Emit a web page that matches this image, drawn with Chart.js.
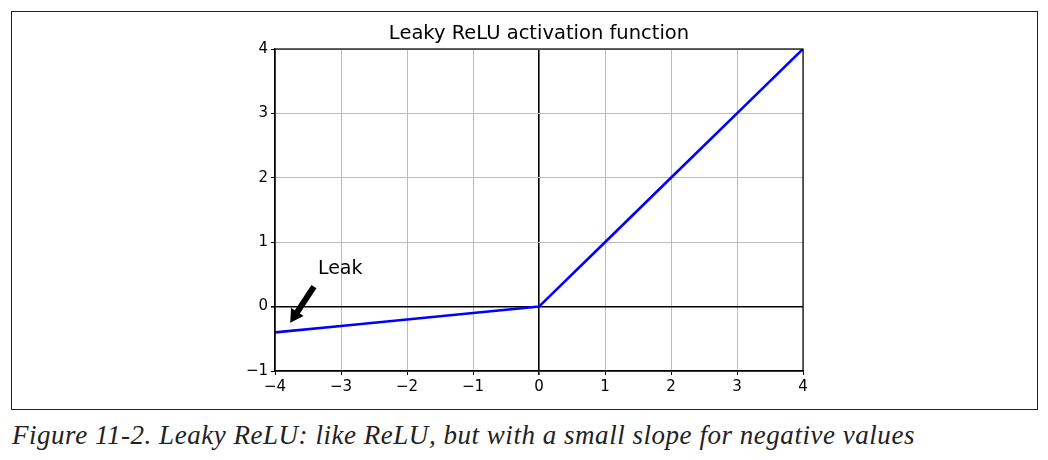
<!DOCTYPE html>
<html>
<head>
<meta charset="utf-8">
<script src="https://cdn.jsdelivr.net/npm/chart.js@4.4.1/dist/chart.umd.min.js"></script>
<style>
  html, body { margin: 0; padding: 0; background: #fff; }
  body { width: 1048px; height: 460px; position: relative; overflow: hidden; }
  #frame { position: absolute; left: 11px; top: 11px; width: 1025px; height: 397px; border: 1.5px solid #222; }
  #wrap { position: absolute; left: 0; top: 0; width: 1048px; height: 412px; }
  #caption { position: absolute; left: 12px; top: 420px; font-family: "Liberation Serif", serif; font-style: italic; font-size: 27px; letter-spacing: 0.53px; color: #222; white-space: nowrap; }
</style>
</head>
<body>
<div id="frame"></div>
<div id="wrap"><canvas id="chart"></canvas></div>
<div id="caption">Figure 11-2. Leaky ReLU: like ReLU, but with a small slope for negative values</div>
<script>
// leaky relu, alpha 0.1
var xValues = [-4, -3, -2, -1, 0, 1, 2, 3, 4];
var yValues = [-0.4, -0.3, -0.2, -0.1, 0, 1, 2, 3, 4];
var xTicks = [-4, -3, -2, -1, 0, 1, 2, 3, 4];
var yTicks = [-1, 0, 1, 2, 3, 4];

var points = xValues.map(function (x, i) { return { x: x, y: yValues[i] }; });

function fmt(v) {
    return v < 0 ? '\u2212' + Math.abs(v) : String(v);
}

function gridColor(ctx) {
    return ctx.tick && ctx.tick.value === 0 ? '#000' : '#bcbcbc';
}
function gridWidth(ctx) {
    return ctx.tick && ctx.tick.value === 0 ? 1.6 : 1;
}

// title, spines on top/right, "Leak" arrow annotation
var extras = {
    id: 'extras',
    afterDatasetsDraw: function (chart) {
        var c = chart.ctx, a = chart.chartArea;
        var xs = chart.scales.x, ys = chart.scales.y;
        c.save();
        c.strokeStyle = '#000';
        c.lineWidth = 1.2;
        c.strokeRect(a.left, a.top, a.right - a.left, a.bottom - a.top);

        c.fillStyle = '#000';
        c.font = '19.5px "DejaVu Sans"';
        c.textAlign = 'center';
        c.textBaseline = 'middle';
        c.fillText('Leaky ReLU activation function', (a.left + a.right) / 2, 34);

        // annotation text
        c.font = '19px "DejaVu Sans"';
        c.textAlign = 'left';
        c.fillText('Leak', xs.getPixelForValue(-3.35), ys.getPixelForValue(0.59));

        // arrow
        var x0 = xs.getPixelForValue(-3.41), y0 = ys.getPixelForValue(0.31);
        var x1 = xs.getPixelForValue(-3.77), y1 = ys.getPixelForValue(-0.25);
        var dx = x1 - x0, dy = y1 - y0, len = Math.sqrt(dx * dx + dy * dy);
        var ux = dx / len, uy = dy / len, nx = -uy, ny = ux;
        var sw = 3, hw = 7.5, hl = 13;
        var bx = x1 - ux * hl, by = y1 - uy * hl;
        c.beginPath();
        c.moveTo(x0 + nx * sw, y0 + ny * sw);
        c.lineTo(bx + nx * sw, by + ny * sw);
        c.lineTo(bx + nx * hw, by + ny * hw);
        c.lineTo(x1, y1);
        c.lineTo(bx - nx * hw, by - ny * hw);
        c.lineTo(bx - nx * sw, by - ny * sw);
        c.lineTo(x0 - nx * sw, y0 - ny * sw);
        c.closePath();
        c.fill();
        c.restore();
    }
};

var ctx = document.querySelector('#chart').getContext('2d');
var reluChart = new Chart(ctx, {
    type: 'line',
    data: {
        datasets: [{
            data: points,
            borderColor: '#0000ff',
            borderWidth: 2.6,
            pointRadius: 0,
            tension: 0,
            fill: false
        }]
    },
    options: {
        responsive: true,
        maintainAspectRatio: false,
        animation: false,
        events: [],
        layout: { padding: { left: 0, top: 49, right: 245, bottom: 0 } },
        scales: {
            x: {
                type: 'linear',
                min: -4,
                max: 4,
                afterBuildTicks: function (axis) {
                    axis.ticks = xTicks.map(function (v) { return { value: v }; });
                },
                afterFit: function (axis) { axis.height = 41; },
                grid: { color: gridColor, lineWidth: gridWidth, tickColor: '#000', tickLength: 4, drawTicks: true },
                border: { display: true, color: '#000', width: 1.2 },
                ticks: {
                    color: '#000',
                    padding: 3,
                    maxRotation: 0,
                    font: { family: 'DejaVu Sans', size: 15 },
                    callback: function (v) { return fmt(v); }
                }
            },
            y: {
                type: 'linear',
                min: -1,
                max: 4,
                afterBuildTicks: function (axis) {
                    axis.ticks = yTicks.map(function (v) { return { value: v }; });
                },
                afterFit: function (axis) { axis.width = 275; },
                grid: { color: gridColor, lineWidth: gridWidth, tickColor: '#000', tickLength: 4, drawTicks: true },
                border: { display: true, color: '#000', width: 1.2 },
                ticks: {
                    color: '#000',
                    padding: 3,
                    font: { family: 'DejaVu Sans', size: 15 },
                    callback: function (v) { return fmt(v); }
                }
            }
        },
        plugins: {
            legend: { display: false },
            tooltip: { enabled: false },
            title: { display: false }
        }
    },
    plugins: [extras]
});
</script>
</body>
</html>
